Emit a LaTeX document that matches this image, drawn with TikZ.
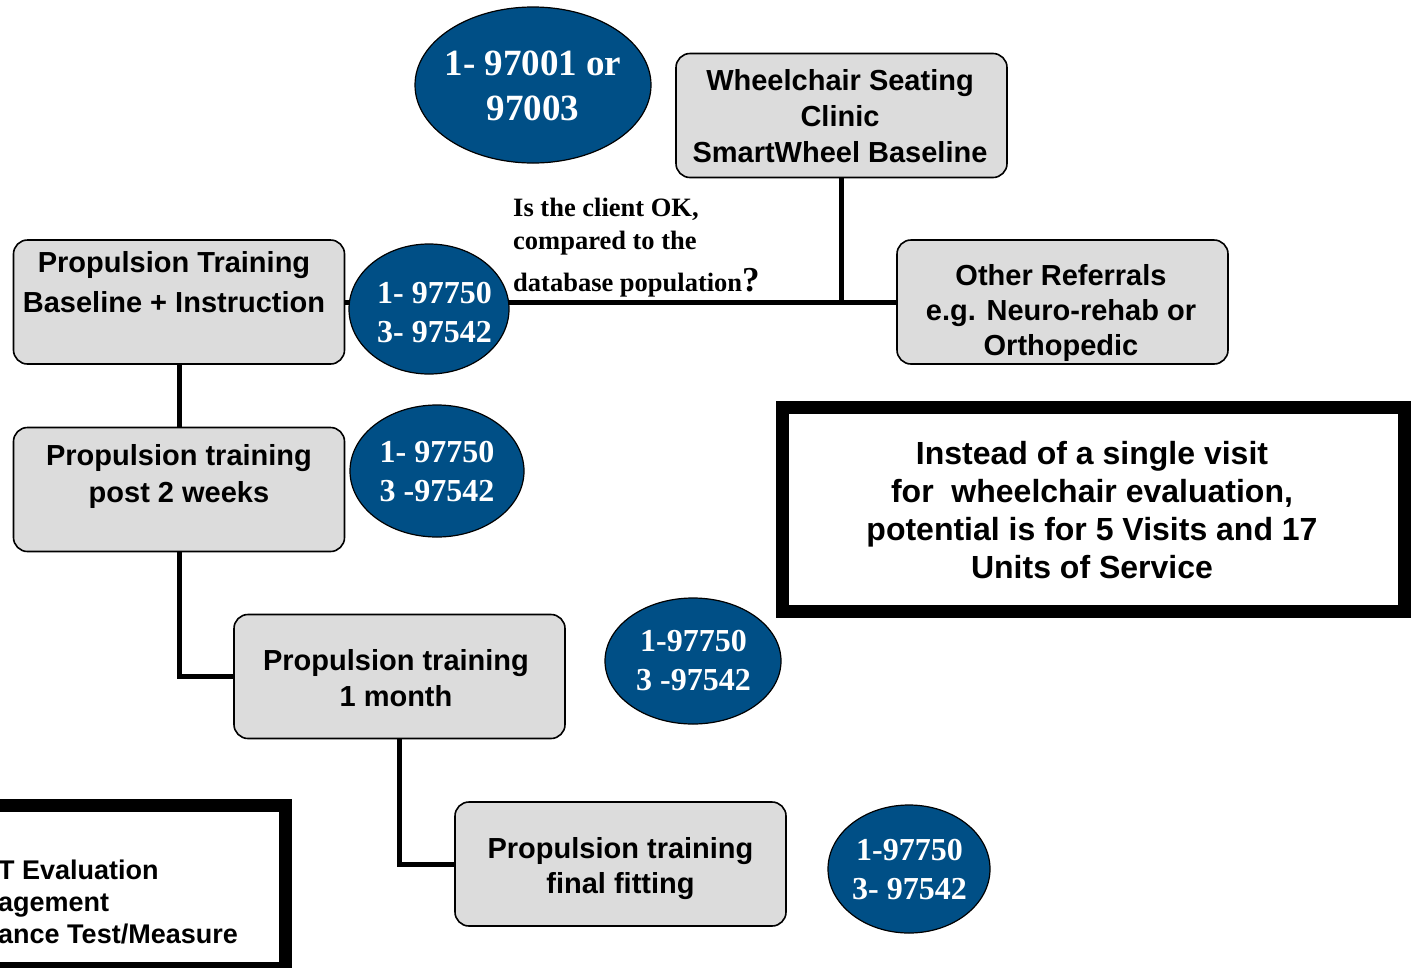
\documentclass[tikz,border=0pt]{standalone}
\usepackage{fontspec}
\setmainfont{Liberation Serif}
\setsansfont{Liberation Sans}
\definecolor{navy}{HTML}{004F86}
\definecolor{boxgray}{HTML}{DCDCDC}
\usetikzlibrary{shapes.geometric}

\begin{document}
\begin{tikzpicture}[x=1pt,y=-1pt,
  stepbox/.style={
    draw=black, fill=boxgray, line width=1.6pt,
    rounded corners=14pt, inner sep=0pt,
    minimum width=331pt, minimum height=124pt},
  boxtxt/.style={align=center, font=\sffamily\bfseries\fontsize{29}{36}\selectfont},
  code/.style={
    ellipse, draw=black, fill=navy, line width=1.2pt, inner sep=0pt},
  codetxt/.style={align=center, text=white, inner sep=0pt,
    font=\bfseries\fontsize{32}{39}\selectfont},
  link/.style={line width=5pt},
  frame/.style={draw=black, line width=13pt, fill=white},
]
  \clip (0,0) rectangle (1412,967);

  % boxes
  \node[stepbox] (clinic) at (841.5,115.5) {};
  \node[stepbox] (other)  at (1062.5,302)  {};
  \node[stepbox] (base)   at (179,302)     {};
  \node[stepbox] (post2)  at (179,489.5)   {};
  \node[stepbox] (month)  at (399.5,676.5) {};
  \node[stepbox] (final)  at (620.5,864)   {};

  \node[boxtxt] (clinictxt) at (840,116.5) {Wheelchair Seating\\Clinic\\SmartWheel Baseline};
  \node[boxtxt, font=\sffamily\bfseries\fontsize{29}{35}\selectfont] (othertxt) at (1061,313)
    {Other Referrals\\e.g. Neuro-rehab or\\Orthopedic};
  \node[boxtxt, font=\sffamily\bfseries\fontsize{29}{40}\selectfont] (basetxt) at (174,282)
    {Propulsion Training\\Baseline + Instruction};
  \node[boxtxt, font=\sffamily\bfseries\fontsize{29}{37}\selectfont] (post2txt) at (179,476.5)
    {Propulsion training\\post 2 weeks};
  \node[boxtxt] (monthtxt) at (396,678) {Propulsion training\\1 month};
  \node[boxtxt, font=\sffamily\bfseries\fontsize{29}{35}\selectfont] (finaltxt) at (620.5,869)
    {Propulsion training\\final fitting};

  % connectors
  \draw[link] (clinic.south) -- (clinic.south |- other.west);
  \draw[link] (base.east) -- (other.west);
  \draw[link] (base.south) -- (post2.north);
  \draw[link] (post2.south) |- (month.west);
  \draw[link] (month.south) |- (final.west);

  % billing codes
  \node[code, minimum width=236pt, minimum height=156pt] (c0) at (533,85) {};
  \node[code, minimum width=160pt, minimum height=130pt] (c1) at (429,309) {};
  \node[code, minimum width=174pt, minimum height=132pt] (c2) at (437,471) {};
  \node[code, minimum width=176pt, minimum height=126pt] (c3) at (693,661) {};
  \node[code, minimum width=162pt, minimum height=128pt] (c4) at (909,869) {};

  \node[codetxt, font=\bfseries\fontsize{37}{45}\selectfont] (c0txt) at (533,85.5) {1- 97001 or\\97003};
  \node[codetxt] (c1txt) at (434.5,312.5) {1- 97750\\3- 97542};
  \node[codetxt] (c2txt) at (437,471.5)   {1- 97750\\3 -97542};
  \node[codetxt] (c3txt) at (693.5,661)   {1-97750\\3 -97542};
  \node[codetxt] (c4txt) at (909.5,869.5) {1-97750\\3- 97542};

  % question
  \node[anchor=base west, align=left, inner sep=0pt,
        font=\bfseries\fontsize{26.5}{33}\selectfont] (ask) at (513,291)
    {Is the client OK,\\compared to the\\[9pt]database population{\fontsize{35}{35}\selectfont?}};

  % notes
  \draw[frame] (782,407) rectangle (1404,611);
  \node[align=center, font=\sffamily\bfseries\fontsize{32}{38}\selectfont] (note) at (1092,510)
    {Instead of a single visit\\for\ \ wheelchair evaluation,\\potential is for 5 Visits and 17\\Units of Service};
  \draw[frame] (-30,805) rectangle (285,968);
  \node[anchor=base west, align=left, inner sep=0pt,
        font=\sffamily\bfseries\fontsize{27}{32}\selectfont] (tests) at (-2,943)
    {T Evaluation\\agement\\ance Test/Measure};
\end{tikzpicture}
\end{document}
